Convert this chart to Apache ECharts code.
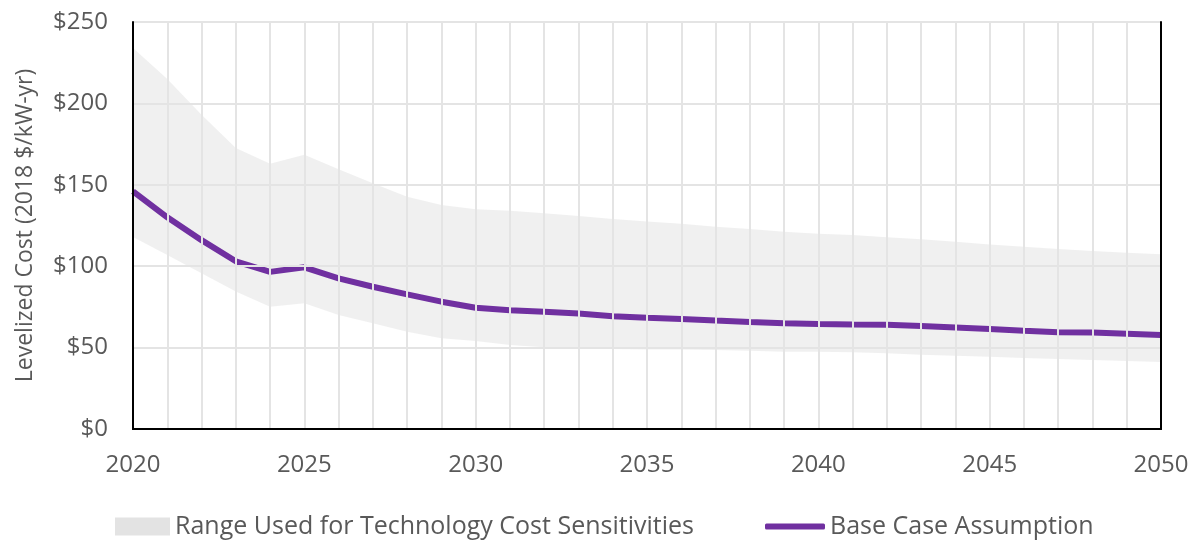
<!DOCTYPE html>
<html>
<head>
<meta charset="utf-8">
<script src="https://cdn.jsdelivr.net/npm/echarts@6/dist/echarts.min.js"></script>
<style>
  html, body { margin: 0; padding: 0; background: #fff; }
  #chart { width: 1200px; height: 541px; }
</style>
</head>
<body>
<div id="chart"></div>
<script>
const years = ['2020','2021','2022','2023','2024','2025','2026','2027','2028','2029','2030',
  '2031','2032','2033','2034','2035','2036','2037','2038','2039','2040',
  '2041','2042','2043','2044','2045','2046','2047','2048','2049','2050'];

const baseCase = [146, 130, 116, 103, 96.5, 99.3, 92.5, 87.4, 82.7, 78.2, 74.5,
  73, 72, 71, 69.3, 68.4, 67.6, 66.6, 65.7, 64.9, 64.5,
  64.2, 64, 63.2, 62.4, 61.4, 60.4, 59.5, 59.2, 58.5, 57.7];

const rangeUpper = [234, 215, 193, 172.6, 163, 168.5, 159.5, 151, 142.7, 137.6, 135,
  134, 132.5, 130.8, 129, 127.4, 126, 124.3, 122.9, 121.2, 120,
  119.2, 117.8, 116.5, 115, 113.4, 112, 110.6, 109.3, 108.3, 107.3];

const rangeLower = [118, 106.9, 95.6, 84.4, 75.1, 77.2, 70, 64.9, 59.8, 55.7, 54,
  51.6, 50.2, 49.6, 49.1, 48.9, 48.9, 48.5, 48.1, 47.5, 47.5,
  47.2, 46.5, 45.6, 45, 44.4, 43.6, 43, 42.4, 41.8, 41.2];

const yTicks = [0, 50, 100, 150, 200, 250];

const rangeName = 'Range Used for Technology Cost Sensitivities';
const baseName = 'Base Case Assumption';
const rangeSpan = rangeUpper.map((u, i) => +(u - rangeLower[i]).toFixed(2));

const FONT = 'Open Sans';
const chart = echarts.init(document.getElementById('chart'), null, { renderer: 'canvas' });
chart.setOption({
  animation: false,
  backgroundColor: '#ffffff',
  grid: {
    left: 133, right: 39, top: 22, bottom: 112
  },
  legend: [
    {
      data: [{ name: rangeName, icon: 'rect', itemStyle: { color: '#e3e3e3' } }],
      left: 110, top: 509,
      itemWidth: 55, itemHeight: 18, itemGap: 4,
      textStyle: { fontFamily: FONT, fontSize: 25, color: '#595959' },
      selectedMode: false
    },
    {
      data: [{ name: baseName, icon: 'roundRect', itemStyle: { color: '#7030A0' } }],
      left: 760, top: 509,
      itemWidth: 60, itemHeight: 6, itemGap: 4,
      textStyle: { fontFamily: FONT, fontSize: 25, color: '#595959' },
      selectedMode: false
    }
  ],
  xAxis: [
    {
      type: 'category',
      data: years,
      boundaryGap: false,
      axisLine: { show: true, lineStyle: { color: '#000', width: 2 } },
      axisTick: { show: false },
      axisLabel: {
        interval: 4, margin: 24,
        fontFamily: FONT, fontSize: 24, color: '#595959'
      },
      splitLine: { show: true, interval: 0, lineStyle: { color: '#e4e4e4', width: 2 } },
      z: 10
    },
    {
      type: 'category', position: 'top',
      data: years, boundaryGap: false,
      axisLine: { show: true, lineStyle: { color: '#000', width: 2 } },
      axisTick: { show: false }, axisLabel: { show: false }, splitLine: { show: false },
      z: 10
    }
  ],
  yAxis: [
    {
      type: 'value',
      min: yTicks[0], max: yTicks[yTicks.length - 1], interval: 50,
      name: 'Levelized Cost (2018 $/kW-yr)',
      nameLocation: 'middle', nameGap: 96, nameRotate: 90,
      nameTextStyle: { fontFamily: FONT, fontSize: 23, color: '#595959' },
      axisLine: { show: true, lineStyle: { color: '#000', width: 2 } },
      axisTick: { show: false },
      axisLabel: {
        margin: 25, fontFamily: FONT, fontSize: 24, color: '#595959',
        formatter: v => '$' + v
      },
      splitLine: { show: true, lineStyle: { color: '#e4e4e4', width: 2 } },
      z: 10
    },
    {
      type: 'value', position: 'right',
      min: yTicks[0], max: yTicks[yTicks.length - 1], interval: 50,
      axisLine: { show: true, lineStyle: { color: '#000', width: 2 } },
      axisTick: { show: false }, axisLabel: { show: false }, splitLine: { show: false },
      z: 10
    }
  ],
  series: [
    {
      name: 'lower', type: 'line', stack: 'band', data: rangeLower,
      symbol: 'none', lineStyle: { opacity: 0 }, silent: true
    },
    {
      name: rangeName, type: 'line', stack: 'band', data: rangeSpan,
      symbol: 'none', lineStyle: { opacity: 0 },
      areaStyle: { color: 'rgba(205,205,205,0.42)' }, silent: true
    },
    {
      name: baseName, type: 'line', data: baseCase,
      symbol: 'none', z: 5,
      lineStyle: { color: '#7030A0', width: 6 },
      itemStyle: { color: '#7030A0' }
    }
  ]
});
</script>
</body>
</html>
